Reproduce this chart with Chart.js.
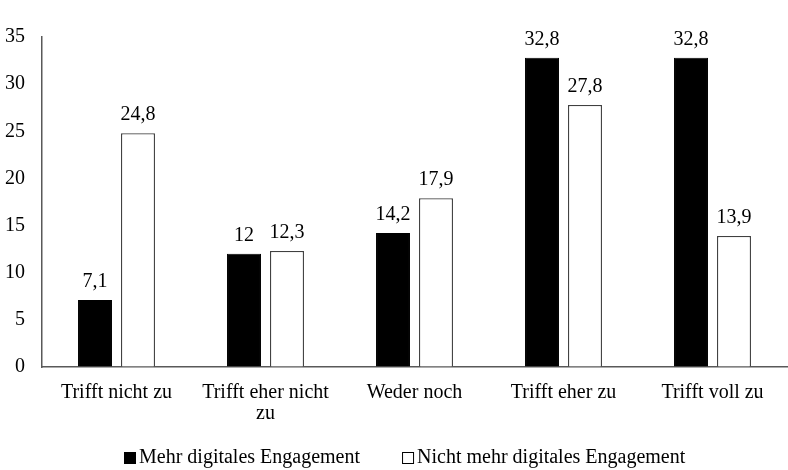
<!DOCTYPE html>
<html>
<head>
<meta charset="utf-8">
<script src="https://cdn.jsdelivr.net/npm/chart.js@4.4.0/dist/chart.umd.min.js"></script>
<style>
  html, body { margin: 0; padding: 0; background: #fff; }
  #wrap { width: 788px; height: 470px; position: relative; }
</style>
</head>
<body>
<div id="wrap"><canvas id="c" width="788" height="470"></canvas></div>
<script>
const categories = [
  "Trifft nicht zu",
  ["Trifft eher nicht", "zu"],
  "Weder noch",
  "Trifft eher zu",
  "Trifft voll zu"
];
const seriesNames = ["Mehr digitales Engagement", "Nicht mehr digitales Engagement"];
const mehrValues = [7.1, 12, 14.2, 32.8, 32.8];
const nichtMehrValues = [24.8, 12.3, 17.9, 27.8, 13.9];
const yTicks = [0, 5, 10, 15, 20, 25, 30, 35];

const FONT = '"Liberation Serif", serif';
const FS = 20;

const valueLabels = {
  id: 'valueLabels',
  afterDatasetsDraw(chart) {
    const ctx = chart.ctx;
    ctx.save();
    ctx.font = FS + "px " + FONT;
    ctx.fillStyle = "#000";
    ctx.textAlign = "center";
    ctx.textBaseline = "alphabetic";
    chart.data.datasets.forEach((ds, i) => {
      const meta = chart.getDatasetMeta(i);
      meta.data.forEach((el, j) => {
        const txt = String(ds.data[j]).replace('.', ',');
        ctx.fillText(txt, el.x, el.y - 13);
      });
    });
    ctx.restore();
  }
};

const customLegend = {
  id: 'customLegend',
  afterDraw(chart) {
    const ctx = chart.ctx;
    ctx.save();
    ctx.font = FS + "px " + FONT;
    const box = 12, gap = 3, itemGap = 42;
    const widths = chart.data.datasets.map(ds => ctx.measureText(ds.label).width);
    let total = 0;
    widths.forEach((w, i) => { total += box + gap + w + (i > 0 ? itemGap : 0); });
    let x = Math.round(405 - total / 2);
    const cy = 458;
    chart.data.datasets.forEach((ds, i) => {
      ctx.fillStyle = ds.backgroundColor;
      ctx.fillRect(x + 0.5, cy - 6 + 0.5, box - 1, box - 1);
      ctx.strokeStyle = "#000";
      ctx.lineWidth = 1;
      ctx.strokeRect(x + 0.5, cy - 6 + 0.5, box - 1, box - 1);
      ctx.fillStyle = "#000";
      ctx.textBaseline = "middle";
      ctx.textAlign = "left";
      ctx.fillText(ds.label, x + box + gap, cy);
      x += box + gap + widths[i] + itemGap;
    });
    ctx.restore();
  }
};

new Chart(document.getElementById('c'), {
  type: 'bar',
  data: {
    labels: categories,
    datasets: [
      {
        label: seriesNames[0],
        data: mehrValues,
        backgroundColor: "#000000",
        borderColor: "#000000",
        borderWidth: 1,
        categoryPercentage: 0.577,
        barPercentage: 0.79
      },
      {
        label: seriesNames[1],
        data: nichtMehrValues,
        backgroundColor: "#ffffff",
        borderColor: "#404040",
        borderWidth: 1.3,
        categoryPercentage: 0.577,
        barPercentage: 0.79
      }
    ]
  },
  options: {
    responsive: false,
    animation: false,
    devicePixelRatio: 1,
    layout: { padding: { top: 37, right: 1, left: 0, bottom: 0 } },
    plugins: {
      legend: { display: false },
      tooltip: { enabled: false }
    },
    scales: {
      x: {
        grid: { color: 'transparent', drawTicks: false },
        border: { display: true, color: '#595959', width: 1.5 },
        ticks: {
          color: '#000',
          font: { family: FONT, size: FS, lineHeight: 1.05 },
          padding: 15,
          maxRotation: 0,
          autoSkip: false
        },
        afterFit(scale) { scale.height = 103; }
      },
      y: {
        min: 0,
        max: 35,
        grid: { color: 'transparent', drawTicks: false },
        border: { display: true, color: '#595959', width: 1.5 },
        afterBuildTicks(scale) { scale.ticks = yTicks.map(v => ({ value: v })); },
        ticks: {
          color: '#000',
          font: { family: FONT, size: FS },
          padding: 17
        },
        afterFit(scale) { scale.width = 42; }
      }
    }
  },
  plugins: [valueLabels, customLegend]
});
</script>
</body>
</html>
